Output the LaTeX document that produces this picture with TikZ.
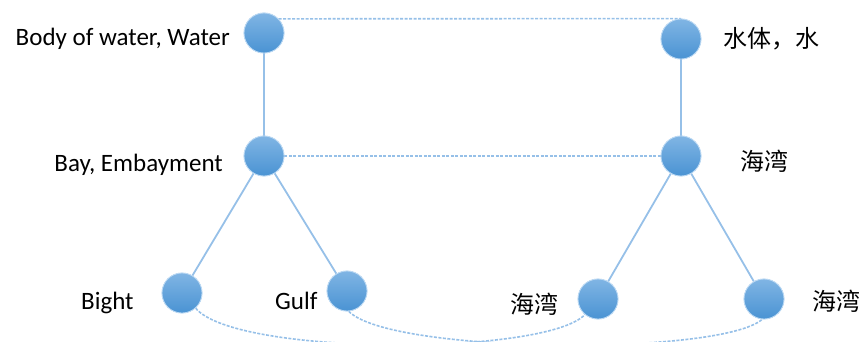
\documentclass[tikz,border=0pt]{standalone}
\usepackage{fontspec}
\setmainfont{Carlito}
\newfontfamily\cjk{Noto Sans CJK SC}
\definecolor{balltop}{RGB}{128,181,228}
\definecolor{ballbot}{RGB}{74,147,211}
\definecolor{ballrim}{RGB}{188,217,243}
\definecolor{linkblue}{RGB}{150,192,232}
\tikzset{
  ball/.style={circle, minimum size=40pt, inner sep=0pt, top color=balltop, bottom color=ballbot, draw=ballrim, line width=0.8pt},
  treeline/.style={draw=linkblue, line width=1.8pt},
  dashline/.style={draw=linkblue, line width=1.6pt, dash pattern=on 3pt off 1.5pt},
  lat/.style={inner sep=0pt, font=\fontsize{25}{28}\selectfont},
  han/.style={inner sep=0pt, font=\cjk\fontsize{24}{28}\selectfont},
}
\begin{document}
\begin{tikzpicture}[x=1pt, y=-1pt]
\useasboundingbox (0,0) rectangle (861,342);
\clip (0,0) rectangle (861,342);
% nodes
\node[ball] (ltop) at (264,33) {};
\node[ball] (lmid) at (264,156) {};
\node[ball] (bight) at (182,293) {};
\node[ball] (gulf) at (347,291) {};
\node[ball] (rtop) at (681,39) {};
\node[ball] (rmid) at (681,156) {};
\node[ball] (rbl) at (598,299) {};
\node[ball] (rbr) at (764,299) {};
% connectors
\draw[treeline] (ltop) -- (lmid);
\draw[treeline] (lmid) -- (bight);
\draw[treeline] (lmid) -- (gulf);
\draw[treeline] (rtop) -- (rmid);
\draw[treeline] (rmid) -- (rbl);
\draw[treeline] (rmid) -- (rbr);
\draw[dashline] (ltop.44) -- (rtop.north);
\draw[dashline] (lmid.east) -- (rmid.west);
\draw[dashline] (bight.-48) .. controls (235,356) and (545,356) .. (rbl.-130);
\draw[dashline] (gulf.-85) .. controls (390,354) and (720,356) .. (rbr.-95);
% redraw balls on top of the connectors
\node[ball] at (ltop) {};
\node[ball] at (lmid) {};
\node[ball] at (bight) {};
\node[ball] at (gulf) {};
\node[ball] at (rtop) {};
\node[ball] at (rmid) {};
\node[ball] at (rbl) {};
\node[ball] at (rbr) {};
% labels
\node[lat, anchor=base east] (tl1) at (230,46) {Body of water, Water};
\node[lat, anchor=base east] (tl2) at (223,171) {Bay, Embayment};
\node[lat, anchor=base west] (tl3) at (81,309) {Bight};
\node[lat, anchor=base west] (tl4) at (275,309) {Gulf};
\node[han, anchor=base west] (tr1) at (723,48) {水体，水};
\node[han, anchor=base west] (tr2) at (740,170) {海湾};
\node[han, anchor=base west] (tr3) at (510,313) {海湾};
\node[han, anchor=base west] (tr4) at (812,310) {海湾};
\end{tikzpicture}
\end{document}
